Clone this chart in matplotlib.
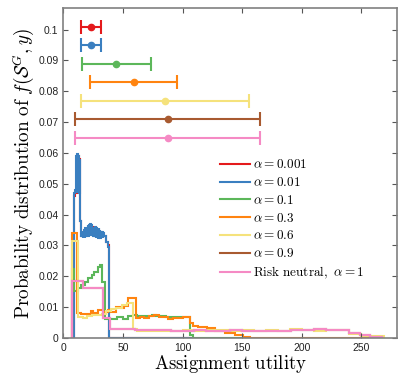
import numpy as np
import matplotlib
matplotlib.use("Agg")
import matplotlib.pyplot as plt

plt.rcParams['mathtext.fontset'] = 'cm'
plt.rcParams['font.family'] = ['Liberation Sans', 'DejaVu Sans']

# ---------------- data ----------------
labels = [r'$\alpha = 0.001$', r'$\alpha = 0.01$', r'$\alpha = 0.1$', r'$\alpha = 0.3$',
          r'$\alpha = 0.6$', r'$\alpha = 0.9$', r'$\mathrm{Risk\ neutral,}\ \alpha = 1$']
colors = ['#e41a1c', '#3a7fc0', '#5cb75a', '#ff8410', '#f5e27c', '#a85a30', '#f58ac4']

# error-bar summary (left, centre, right, vertical slot)
eb_left = [14.9, 14.9, 15.8, 22.0, 14.9, 10.1, 10.1]
eb_center = [23.4, 23.4, 44.5, 59.1, 85.3, 87.6, 87.6]
eb_right = [31.2, 31.2, 73.5, 95.7, 155.7, 164.7, 164.7]
eb_y = [0.101, 0.095, 0.089, 0.083, 0.077, 0.071, 0.065]

# histograms (bin edges, densities)
red_edges = [9, 10, 11, 12, 13, 14, 15, 16, 17, 18, 19, 20, 21, 22, 23, 24, 25, 26, 27, 28,
             29, 30, 31, 32, 33, 34, 35, 36, 37, 38, 110]
red_vals = [0.046, 0.047, 0.058, 0.059, 0.058, 0.038, 0.033, 0.033, 0.033, 0.034, 0.034,
            0.035, 0.034, 0.035, 0.035, 0.036, 0.034, 0.035, 0.034, 0.035, 0.034, 0.034,
            0.033, 0.034, 0.033, 0.033, 0.033, 0.031, 0.030, 0.0]

blue_edges = [9, 10, 10.5, 11, 11.5, 12, 12.5, 13, 13.5, 14, 15, 16, 16.5, 17, 17.5, 18, 18.5,
              19, 19.5, 20, 20.5, 21, 21.5, 22, 22.5, 23, 23.5, 24, 24.5, 25, 25.5, 26, 26.5,
              27, 27.5, 28, 28.5, 29, 29.5, 30, 30.5, 31, 31.5, 32, 32.5, 33, 33.5, 34, 34.5,
              35, 36, 37, 38, 110]
blue_vals = [0.047, 0.048, 0.059, 0.047, 0.0595, 0.048, 0.059, 0.047, 0.058, 0.038, 0.033,
             0.0325, 0.0345, 0.033, 0.035, 0.0325, 0.0355, 0.033, 0.036, 0.0335, 0.0365,
             0.033, 0.0365, 0.0335, 0.037, 0.033, 0.0365, 0.0335, 0.036, 0.033, 0.0355,
             0.033, 0.036, 0.0325, 0.0355, 0.033, 0.035, 0.0325, 0.0355, 0.033, 0.035,
             0.0325, 0.0345, 0.033, 0.0345, 0.0325, 0.034, 0.033, 0.0335, 0.033,
             0.031, 0.0295, 0.0]

green_edges = [7.5, 8.5, 12, 15, 18, 21, 24, 26, 29, 30.5, 32.6, 35, 38, 41, 45, 50, 54, 58,
               62, 66, 70, 74, 78, 82, 86, 90, 94, 98, 102, 106, 109, 150]
green_vals = [0.0225, 0.0152, 0.0162, 0.0172, 0.0182, 0.0193, 0.0205, 0.0215, 0.023, 0.0238,
              0.0183, 0.0062, 0.006, 0.006, 0.0067, 0.0063, 0.007, 0.0076, 0.0072, 0.0071,
              0.007, 0.0073, 0.0072, 0.007, 0.0068, 0.0069, 0.0068, 0.0069, 0.0067, 0.001, 0.0]

orange_edges = [6.8, 11, 15, 19, 23, 25, 29, 33, 37, 40, 44, 48, 51, 54, 60.5, 64, 68, 72, 76,
                80, 84, 88, 92, 96, 100, 106.4, 109, 113, 120.5, 127.5, 136, 144, 151, 157, 270]
orange_vals = [0.034, 0.0082, 0.0077, 0.0078, 0.0088, 0.008, 0.009, 0.0083, 0.0092, 0.0085,
               0.0099, 0.0096, 0.0105, 0.0128, 0.0065, 0.0067, 0.0066, 0.0071, 0.0074,
               0.0067, 0.0068, 0.0062, 0.0064, 0.0066, 0.0067, 0.0047, 0.0039, 0.0037,
               0.0031, 0.0023, 0.0016, 0.001, 0.0003, 0.0]

yellow_edges = [7.6, 12.4, 16, 20, 24, 28, 32, 36, 40, 44, 49, 53, 58.5, 62, 70, 80, 90, 100,
                110, 120, 130, 140, 150, 160, 170, 180, 190, 200, 210, 220, 230, 240, 250,
                260, 269]
yellow_vals = [0.0315, 0.0068, 0.0066, 0.007, 0.0074, 0.0073, 0.0078, 0.0087, 0.0095, 0.0098,
               0.0108, 0.0112, 0.0028, 0.0021, 0.0023, 0.0021, 0.0022, 0.0026, 0.0024,
               0.0027, 0.0025, 0.0022, 0.0026, 0.0021, 0.0026, 0.0024, 0.0028, 0.0026,
               0.0023, 0.0027, 0.0025, 0.0013, 0.0007, 0.0005]

brown_edges = [6.8, 16.6, 33.5, 39, 50, 60, 70, 80, 90, 100, 110, 120, 130, 140, 150, 160,
               170, 180, 191, 200, 210, 220, 230, 240, 248.6, 257, 267]
brown_vals = [0.0186, 0.0163, 0.0065, 0.0029, 0.0028, 0.0026, 0.0025, 0.0025, 0.0024, 0.0024,
              0.0025, 0.0024, 0.0024, 0.0025, 0.0023, 0.0024, 0.0023, 0.0023, 0.0027,
              0.0027, 0.0028, 0.0027, 0.0027, 0.0015, 0.0009, 0.0003]

pink_edges = [6.8, 16.6, 33.5, 39, 50, 60, 70, 80, 90, 100, 110, 120, 130, 140, 150, 160,
              170, 180, 191, 200, 210, 220, 230, 240, 248.6, 257, 267]
pink_vals = [0.0186, 0.0163, 0.0065, 0.0029, 0.0028, 0.0026, 0.0025, 0.0025, 0.0024, 0.0024,
             0.0025, 0.0024, 0.0024, 0.0025, 0.0023, 0.0024, 0.0023, 0.0023, 0.0027,
             0.0027, 0.0028, 0.0027, 0.0027, 0.0015, 0.0009, 0.0003]

x_ticks = [0, 50, 100, 150, 200, 250]
y_ticks = [0, 0.01, 0.02, 0.03, 0.04, 0.05, 0.06, 0.07, 0.08, 0.09, 0.1]
y_ticklabels = ['0', '0.01', '0.02', '0.03', '0.04', '0.05', '0.06', '0.07', '0.08', '0.09', '0.1']

hist_edges = [red_edges, blue_edges, green_edges, orange_edges, yellow_edges, brown_edges, pink_edges]
hist_vals = [red_vals, blue_vals, green_vals, orange_vals, yellow_vals, brown_vals, pink_vals]

# ---------------- plot ----------------
fig = plt.figure(figsize=(3.99, 3.81), dpi=100)
ax = fig.add_axes([0.159, 0.113, 0.836, 0.866])

for e, v, c, lab in zip(hist_edges, hist_vals, colors, labels):
    ax.stairs(v, e, color=c, linewidth=1.5, label=lab, baseline=0)

for i in range(len(eb_y)):
    ax.errorbar([eb_center[i]], [eb_y[i]],
                xerr=[[eb_center[i] - eb_left[i]], [eb_right[i] - eb_center[i]]],
                fmt='o', color=colors[i], markersize=4.5, capsize=5, elinewidth=1.5,
                capthick=1.5)

ax.set_xlim(0, 280)
ax.set_ylim(0, 0.107)
ax.set_xticks(x_ticks)
ax.set_yticks(y_ticks)
ax.set_yticklabels(y_ticklabels)
ax.tick_params(direction='in', top=True, right=True, length=3.5, width=0.8,
               labelsize=7.5, color='#555555', labelcolor='#222222')
for s in ax.spines.values():
    s.set_color('#808080')
    s.set_linewidth(1.2)

ax.set_xlabel(r'$\mathrm{Assignment\ utility}$', fontsize=13.5, labelpad=0)
ax.set_ylabel(r'$\mathrm{Probability\ distribution\ of}\ f(\mathcal{S}^G, y)$', fontsize=13.8,
              labelpad=2)

leg = ax.legend(loc='upper left', bbox_to_anchor=(0.455, 0.56), frameon=False, fontsize=9.5,
                handlelength=2.2, handletextpad=0.25, labelspacing=0.36, borderaxespad=0)

fig.savefig('out.png', dpi=100)
